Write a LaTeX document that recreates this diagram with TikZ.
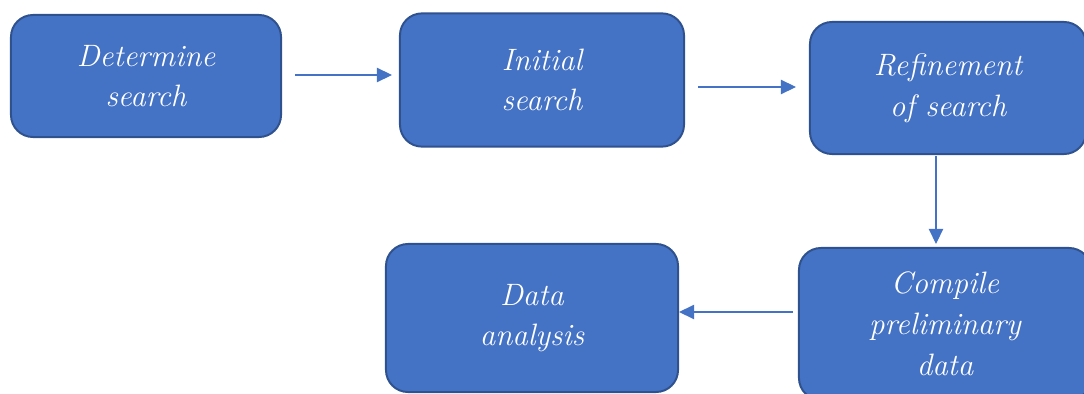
\documentclass[tikz,border=0pt]{standalone}
\usetikzlibrary{arrows.meta}

\definecolor{boxblue}{HTML}{4472C4}
\definecolor{boxedge}{HTML}{2F528F}

\begin{document}
\begin{tikzpicture}[
  x=0.025cm, y=-0.025cm,
  step_box/.style={draw=boxedge, line width=1.4pt, fill=boxblue, rounded corners=0.55cm,
    text=white, align=center, inner sep=0pt,
    font=\fontsize{22}{29}\selectfont\itshape},
  flow/.style={draw=boxblue, line width=0.9pt, -{Triangle[length=0.38cm,width=0.36cm]}}
  ]
	\useasboundingbox (0,0) rectangle (1084,394);
	\clip (0,0) rectangle (1084,394);

	\node[step_box, minimum width=6.75cm, minimum height=3.05cm] (determine) at (146,76) {Determine\\search};
	\node[step_box, minimum width=7.1cm, minimum height=3.33cm] (initial) at (542,80) {Initial\\search};
	\node[step_box, minimum width=6.9cm, minimum height=3.3cm] (refine) at (948,88) {Refinement\\of search};

	\node[step_box, minimum width=7.3cm, minimum height=3.7cm] (analysis) at (532,318) {Data\\analysis};
	\node[step_box, minimum width=7.3cm, minimum height=3.8cm] (compile) at (945,324) {Compile\\preliminary\\data};

	\coordinate (a1) at (295,75);
	\coordinate (b1) at (392,75);
	\coordinate (a2) at (698,87);
	\coordinate (b2) at (796,87);
	\coordinate (a3) at (936,156);
	\coordinate (b3) at (936,244);
	\coordinate (a4) at (793,312);

	\draw[flow] (a1) -- (b1);
	\draw[flow] (a2) -- (b2);
	\draw[flow] (a3) -- (b3);
	\draw[flow] (a4) -- (analysis.east |- a4);
\end{tikzpicture}
\end{document}
